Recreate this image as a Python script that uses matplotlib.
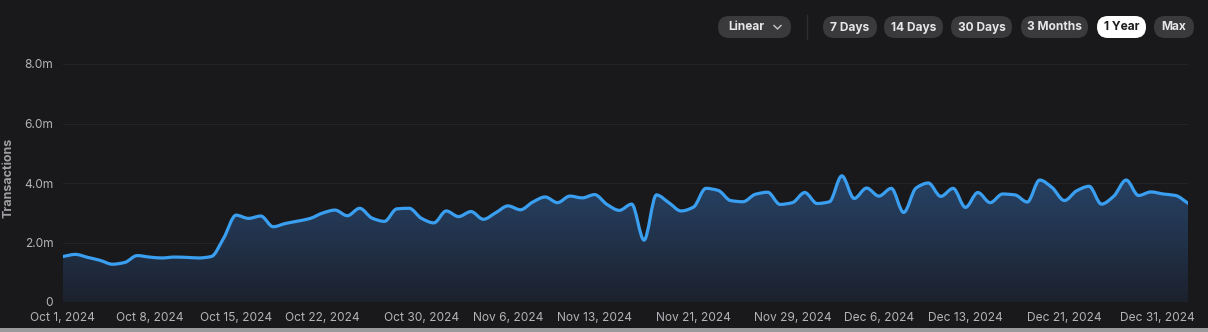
import numpy as np
import pandas as pd
import matplotlib
matplotlib.use("Agg")
import matplotlib.pyplot as plt
import matplotlib.dates as mdates
from matplotlib.path import Path
from matplotlib.patches import PathPatch, FancyBboxPatch, Rectangle
from matplotlib.lines import Line2D
from matplotlib.transforms import ScaledTranslation

plt.rcParams['font.family'] = ['Inter', 'DejaVu Sans']

# ---------------- data ----------------
dates = pd.date_range("2024-10-01", "2024-12-31", freq="D")
transactions_m = [
    1.53, 1.60, 1.50, 1.40, 1.27, 1.33, 1.56, 1.51, 1.48, 1.51,
    1.50, 1.48, 1.53, 2.15, 2.92, 2.81, 2.89, 2.53, 2.64, 2.72,
    2.81, 2.99, 3.09, 2.90, 3.15, 2.82, 2.71, 3.13, 3.15, 2.81,
    2.66, 3.06, 2.87, 3.04, 2.78, 3.00, 3.23, 3.10, 3.36, 3.53,
    3.34, 3.56, 3.50, 3.61, 3.28, 3.08, 3.29, 2.08, 3.60, 3.34,
    3.06, 3.19, 3.82, 3.75, 3.41, 3.37, 3.62, 3.69, 3.28, 3.34,
    3.68, 3.31, 3.37, 4.24, 3.48, 3.83, 3.56, 3.82, 3.01, 3.83,
    4.00, 3.55, 3.82, 3.18, 3.68, 3.34, 3.63, 3.60, 3.36, 4.10,
    3.85, 3.41, 3.74, 3.89, 3.29, 3.56, 4.10, 3.58, 3.70, 3.63,
    3.58, 3.32,
]
tick_dates = ["2024-10-01", "2024-10-08", "2024-10-15", "2024-10-22", "2024-10-30",
              "2024-11-06", "2024-11-13", "2024-11-21", "2024-11-29", "2024-12-06",
              "2024-12-13", "2024-12-21", "2024-12-31"]
y_ticks = [0, 2, 4, 6, 8]
y_tick_labels = ["0", "2.0m", "4.0m", "6.0m", "8.0m"]
buttons = ["7 Days", "14 Days", "30 Days", "3 Months", "1 Year", "Max"]
active_button = "1 Year"
scale_label = "Linear"
y_title = "Transactions"

# ---------------- style ----------------
BG = "#19191b"
LINE = "#3a9ff0"
TXT = "#b4b4b8"
W, H = 1208, 332

fig = plt.figure(figsize=(W / 100, H / 100), dpi=100, facecolor=BG)
ax = fig.add_axes([63 / W, 30 / H, 1125 / W, 238 / H], facecolor=BG)

x = mdates.date2num(dates)
y = np.asarray(transactions_m, dtype=float)


def monotone_bezier(xs, ys):
    """Smooth monotone (Fritsch-Carlson) cubic rendering through the points."""
    n = len(xs)
    h = np.diff(xs)
    d = np.diff(ys) / h
    m = np.zeros(n)
    m[0], m[-1] = d[0], d[-1]
    for k in range(1, n - 1):
        if d[k - 1] * d[k] <= 0:
            m[k] = 0.0
        else:
            w1 = 2 * h[k] + h[k - 1]
            w2 = h[k] + 2 * h[k - 1]
            m[k] = (w1 + w2) / (w1 / d[k - 1] + w2 / d[k])
    verts = [(xs[0], ys[0])]
    codes = [Path.MOVETO]
    for k in range(n - 1):
        verts += [(xs[k] + h[k] / 3, ys[k] + m[k] * h[k] / 3),
                  (xs[k + 1] - h[k] / 3, ys[k + 1] - m[k + 1] * h[k] / 3),
                  (xs[k + 1], ys[k + 1])]
        codes += [Path.CURVE4] * 3
    return verts, codes


verts, codes = monotone_bezier(x, y)
line_path = Path(verts, codes)
fill_verts = verts + [(x[-1], 0), (x[0], 0), (x[0], y[0])]
fill_codes = codes + [Path.LINETO, Path.LINETO, Path.CLOSEPOLY]
fill_patch = PathPatch(Path(fill_verts, fill_codes), facecolor="none", edgecolor="none")
ax.add_patch(fill_patch)

# gradient fill under the curve
top = y.max()
grad = np.linspace(0, 1, 256).reshape(-1, 1)
c_bot = np.array([0x1c, 0x21, 0x2d]) / 255
c_top = np.array([0x27, 0x44, 0x68]) / 255
img = c_bot + (c_top - c_bot) * grad[..., None]
im = ax.imshow(img, extent=[x[0], x[-1], 0, top], origin="lower", aspect="auto",
               zorder=1, interpolation="bicubic")
im.set_clip_path(fill_patch)

ax.add_patch(PathPatch(line_path, facecolor="none", edgecolor=LINE, lw=2.3,
                       capstyle="round", joinstyle="round", zorder=3))

ax.set_xlim(x[0], x[-1])
ax.set_ylim(0, 8)
ax.set_yticks(y_ticks)
ax.set_yticklabels(y_tick_labels)
tk = mdates.date2num(pd.to_datetime(tick_dates))
ax.set_xticks(tk)
ax.set_xticklabels([pd.Timestamp(t).strftime("%b ") + str(pd.Timestamp(t).day) +
                    pd.Timestamp(t).strftime(", %Y") for t in tick_dates])
ax.tick_params(axis="both", length=0, colors=TXT, labelsize=8.6)
ax.tick_params(axis="x", pad=7.5)
ax.tick_params(axis="y", pad=7)
lbls = ax.get_xticklabels()
lbls[-1].set_transform(lbls[-1].get_transform() + ScaledTranslation(-0.31, 0, fig.dpi_scale_trans))
for s in ax.spines.values():
    s.set_visible(False)
ax.grid(axis="y", color="#242427", lw=0.8)
ax.set_axisbelow(True)

fig.text(9 / W, 1 - 178 / H, y_title, rotation=90, ha="center", va="center",
         color="#a0a0a4", fontsize=9, fontweight="bold")

# ---------------- top controls overlay (pixel coordinates) ----------------
ov = fig.add_axes([0, 0, 1, 1], facecolor="none", zorder=10)
ov.set_xlim(0, W)
ov.set_ylim(H, 0)
ov.axis("off")

PILL = "#3a3a3d"


def pill(x0, x1, label, active=False, text_dx=0):
    yc, hh = 27, 22
    ov.add_patch(FancyBboxPatch((x0, yc - hh / 2), x1 - x0, hh,
                                boxstyle="round,pad=0,rounding_size=11",
                                facecolor="#ffffff" if active else PILL, edgecolor="none"))
    ov.text((x0 + x1) / 2 + text_dx, yc + 0.5, label, ha="center", va="center",
            fontsize=8.6, fontweight="bold", color="#1b1b1d" if active else "#e6e6e8")


pill(718, 791, scale_label, text_dx=-8)
ov.add_line(Line2D([774, 777.5, 781], [25.5, 29, 25.5], color="#c8c8cc", lw=1.0))
ov.add_line(Line2D([807, 807], [15, 39], color="#2e2e31", lw=1.0))
spans = [(823, 877), (884, 943), (951, 1012), (1021, 1088), (1097, 1146), (1154, 1194)]
for (a, b), name in zip(spans, buttons):
    pill(a, b, name, active=(name == active_button))

ov.add_patch(Rectangle((-5, 327.5), W + 10, 6, facecolor="#9a9a9c", edgecolor="none",
                       clip_on=False))

fig.savefig("out.png", dpi=100, facecolor=BG)
